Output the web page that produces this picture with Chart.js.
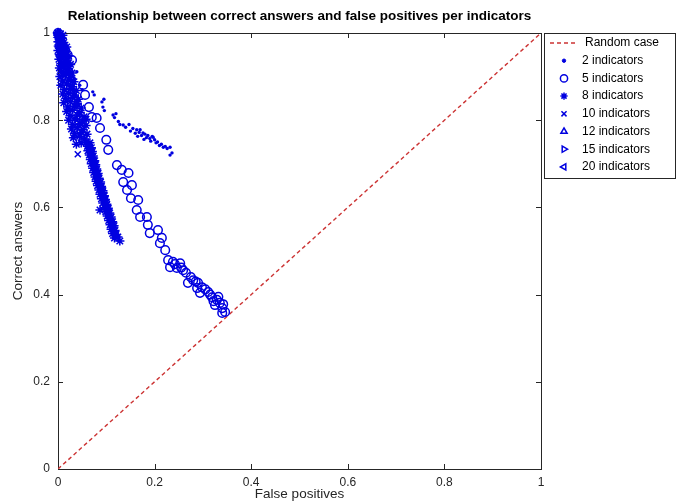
<!DOCTYPE html>
<html>
<head>
<meta charset="utf-8">
<script src="https://cdn.jsdelivr.net/npm/chart.js@4.4.1/dist/chart.umd.min.js"></script>
<style>
 html, body { margin: 0; padding: 0; background: #fff; }
 canvas { display: block; }
</style>
</head>
<body>
<canvas id="chart" width="678" height="504"></canvas>
<script>
/* ── DATA ───────────────────────────────────────────────── */
const chartTitle = 'Relationship between correct answers and false positives per indicators';
const xTicks = [0, 0.2, 0.4, 0.6, 0.8, 1];
const yTicks = [0, 0.2, 0.4, 0.6, 0.8, 1];
const randomCase = [[0, 0], [1, 1]];

const ind2 = [
 [0,1],[0.003,0.99],[0.006,0.985],[0.002,0.975],[0.008,0.97],[0.01,0.96],[0.012,0.95],[0.015,0.945],
 [0.018,0.935],[0.02,0.925],[0.024,0.92],[0.027,0.91],[0.03,0.9],[0.034,0.895],[0.039,0.911],[0.045,0.88],
 [0.05,0.87],[0.072,0.865],[0.075,0.858],[0.091,0.842],[0.093,0.83],[0.095,0.848],[0.096,0.822],
 [0.114,0.812],[0.117,0.806],[0.12,0.815],[0.125,0.797],[0.128,0.79],[0.135,0.789],[0.14,0.784],
 [0.147,0.79],[0.15,0.775],[0.155,0.781],[0.16,0.77],[0.163,0.778],[0.165,0.763],[0.168,0.772],
 [0.17,0.778],[0.173,0.765],[0.176,0.771],[0.178,0.756],[0.18,0.768],[0.183,0.76],[0.186,0.765],
 [0.19,0.758],[0.192,0.752],[0.195,0.763],[0.197,0.761],[0.2,0.755],[0.203,0.748],[0.206,0.75],
 [0.21,0.742],[0.214,0.745],[0.218,0.738],[0.222,0.74],[0.226,0.735],[0.232,0.738],[0.236,0.725],[0.232,0.72]
];

const ind5 = [
 [0,1],[0.005,0.985],[0.01,0.97],[0.015,0.96],[0.02,0.95],[0.029,0.938],[0.052,0.881],[0.056,0.858],
 [0.064,0.83],[0.07,0.807],[0.08,0.805],[0.087,0.782],[0.1,0.755],[0.104,0.732],
 [0.122,0.697],[0.132,0.686],[0.146,0.679],[0.135,0.658],[0.153,0.651],[0.143,0.64],[0.151,0.621],
 [0.166,0.617],[0.163,0.594],[0.17,0.578],[0.184,0.578],[0.186,0.56],[0.19,0.541],[0.207,0.548],
 [0.215,0.53],[0.211,0.518],[0.222,0.502],[0.228,0.479],[0.238,0.475],[0.253,0.472],[0.232,0.463],
 [0.246,0.461],[0.259,0.456],[0.242,0.47],[0.255,0.462],[0.265,0.45],[0.269,0.427],[0.28,0.433],
 [0.275,0.44],[0.29,0.427],[0.298,0.417],[0.288,0.415],[0.294,0.404],[0.285,0.43],[0.311,0.406],
 [0.305,0.412],[0.319,0.394],[0.315,0.4],[0.329,0.388],[0.335,0.381],[0.325,0.376],[0.332,0.395],
 [0.34,0.369],[0.346,0.36],[0.34,0.358],[0.342,0.378],[0.322,0.385]
];

const ind8 = [
 [0,1],[0.005,0.998],[0.01,0.995],[0,0.98],[0.006,0.982],[0.012,0.978],[0,0.96],[0.008,0.962],
 [0.016,0.958],[0.002,0.94],[0.01,0.943],[0.02,0.938],[0.003,0.92],[0.012,0.922],[0.022,0.918],
 [0.004,0.9],[0.015,0.903],[0.026,0.898],[0.006,0.88],[0.018,0.883],[0.03,0.877],[0.01,0.86],
 [0.022,0.862],[0.034,0.858],[0.012,0.84],[0.026,0.843],[0.04,0.838],[0.018,0.82],[0.03,0.823],
 [0.045,0.817],[0.022,0.8],[0.035,0.803],[0.05,0.798],[0.058,0.802],[0.028,0.78],[0.04,0.783],
 [0.052,0.778],[0.032,0.76],[0.045,0.763],[0.055,0.757],[0.038,0.745],[0.048,0.748],
 [0.002,0.99],[0.009,0.988],[0.003,0.97],[0.011,0.972],[0.018,0.968],[0.004,0.95],[0.013,0.952],
 [0.022,0.948],[0.006,0.93],[0.016,0.932],[0.026,0.928],[0.008,0.91],[0.019,0.912],[0.029,0.908],
 [0.01,0.89],[0.022,0.892],[0.033,0.888],[0.013,0.87],[0.026,0.872],[0.038,0.868],[0.016,0.85],
 [0.03,0.852],[0.042,0.848],[0.02,0.83],[0.034,0.832],[0.048,0.828],[0.025,0.81],[0.04,0.812],
 [0.054,0.808],[0.03,0.79],[0.045,0.792],[0.058,0.788],[0.034,0.77],[0.048,0.772],[0.06,0.768],
 [0.058,0.75],[0.066,0.748],[0.061,0.74],[0.069,0.737],[0.062,0.73],[0.071,0.728],[0.065,0.72],
 [0.073,0.718],[0.067,0.71],[0.076,0.707],[0.069,0.7],[0.078,0.698],[0.072,0.69],[0.08,0.688],
 [0.074,0.68],[0.083,0.678],[0.077,0.67],[0.085,0.667],[0.079,0.66],[0.088,0.658],[0.082,0.65],
 [0.09,0.648],[0.085,0.64],[0.093,0.638],[0.087,0.63],[0.096,0.627],[0.09,0.62],[0.098,0.618],
 [0.093,0.61],[0.101,0.607],[0.096,0.6],[0.104,0.598],[0.087,0.594],[0.099,0.59],[0.107,0.587],
 [0.102,0.58],[0.11,0.578],[0.105,0.57],[0.113,0.567],[0.108,0.56],[0.116,0.558],[0.11,0.55],
 [0.118,0.547],[0.113,0.54],[0.12,0.538],[0.117,0.53],[0.124,0.532],[0.128,0.523],
 [0.063,0.745],[0.066,0.735],[0.068,0.725],[0.071,0.715],[0.074,0.705],[0.076,0.695],[0.079,0.685],
 [0.081,0.675],[0.084,0.665],[0.086,0.655],[0.089,0.645],[0.092,0.635],[0.094,0.625],[0.097,0.615],
 [0.1,0.605],[0.103,0.595],[0.105,0.585],[0.108,0.575],[0.111,0.565],[0.114,0.555],[0.116,0.545],[0.119,0.535]
];

const ind10 = [
 [0.005,0.99],[0.01,0.975],[0.008,0.96],[0.015,0.95],[0.02,0.94],[0.012,0.93],[0.025,0.92],
 [0.02,0.905],[0.03,0.89],[0.028,0.875],[0.035,0.86],[0.038,0.845],[0.04,0.83],[0.045,0.815],
 [0.04,0.8],[0.05,0.79],[0.045,0.765],[0.041,0.722]
];

const ind12 = [
 [0,1],[0.003,0.99],[0.006,0.98],[0.004,0.97],[0.01,0.96],[0.008,0.95],[0.013,0.94],[0.016,0.93],
 [0.012,0.92],[0.02,0.91]
];

const ind15 = [
 [0,0.995],[0.002,0.985],[0.005,0.975],[0.003,0.965],[0.008,0.955],[0.006,0.945],[0.011,0.935],[0.01,0.925]
];

const ind20 = [
 [0,1],[0.001,0.99],[0.003,0.98],[0.002,0.97],[0.005,0.96],[0.004,0.95],[0.007,0.94]
];

/* ── STYLE ──────────────────────────────────────────────── */
const BLUE = '#0000e0';
const RED = '#cc3333';
const AXIS = '#262626';
const FONT = '"Liberation Sans", Arial, sans-serif';

const pts = a => a.map(p => ({ x: p[0], y: p[1] }));

function markerSet(label, data, style, radius, rotation, fill) {
 return {
 label, data: pts(data), showLine: false, clip: false,
 pointStyle: style, pointRadius: radius, pointHoverRadius: radius, pointRotation: rotation || 0,
 borderColor: BLUE, pointBorderColor: BLUE,
 pointBackgroundColor: fill ? BLUE : 'rgba(0,0,0,0)',
 pointBorderWidth: fill ? 0 : 1.5
 };
}

const datasets = [
 {
 label: 'Random case', data: pts(randomCase), showLine: true,
 borderColor: RED, borderWidth: 1.4, borderDash: [4, 3], pointRadius: 0, fill: false
 },
 markerSet('2 indicators', ind2, 'circle', 1.7, 0, true),
 markerSet('5 indicators', ind5, 'circle', 4.3, 0, false),
 markerSet('8 indicators', ind8, 'star', 4.6, 0, false),
 markerSet('10 indicators', ind10, 'crossRot', 4.3, 0, false),
 markerSet('12 indicators', ind12, 'triangle', 4.3, 0, false),
 markerSet('15 indicators', ind15, 'triangle', 4.3, 90, false),
 markerSet('20 indicators', ind20, 'triangle', 4.3, -90, false)
];
// later series on top, like the original plot
datasets.forEach((d, i) => { d.order = datasets.length - i; });

/* ── PLUGINS ────────────────────────────────────────────── */
const framePlugin = {
 id: 'frame',
 beforeDatasetsDraw(chart) {
 const { ctx, chartArea: a, scales: { x, y } } = chart;
 ctx.save();
 ctx.strokeStyle = AXIS;
 ctx.lineWidth = 1;
 ctx.strokeRect(Math.round(a.left) + 0.5, Math.round(a.top) + 0.5, Math.round(a.right - a.left), Math.round(a.bottom - a.top));
 ctx.beginPath();
 xTicks.forEach(v => {
 const px = Math.round(x.getPixelForValue(v)) + 0.5;
 ctx.moveTo(px, a.bottom); ctx.lineTo(px, a.bottom - 5);
 ctx.moveTo(px, a.top); ctx.lineTo(px, a.top + 5);
 });
 yTicks.forEach(v => {
 const py = Math.round(y.getPixelForValue(v)) + 0.5;
 ctx.moveTo(a.left, py); ctx.lineTo(a.left + 5, py);
 ctx.moveTo(a.right, py); ctx.lineTo(a.right - 5, py);
 });
 ctx.stroke();
 ctx.restore();
 },
 afterDraw(chart) {
 const { ctx, chartArea: a } = chart;
 ctx.save();
 // title
 ctx.fillStyle = '#000';
 ctx.font = 'bold 13.5px ' + FONT;
 ctx.textAlign = 'center';
 ctx.textBaseline = 'middle';
 ctx.fillText(chartTitle, (a.left + a.right) / 2, 16);

 // legend box
 const lx = 544, ly = 33, lw = 131, lh = 145, row = 17.7;
 ctx.fillStyle = '#fff';
 ctx.fillRect(lx, ly, lw, lh);
 ctx.strokeStyle = AXIS;
 ctx.lineWidth = 1;
 ctx.strokeRect(lx + 0.5, ly + 0.5, lw, lh);
 ctx.font = '12px ' + FONT;
 ctx.textAlign = 'left';
 chart.data.datasets.forEach((d, i) => {
 const cy = ly + 10 + i * row;
 if (i === 0) {
 ctx.save();
 ctx.strokeStyle = d.borderColor;
 ctx.lineWidth = d.borderWidth;
 ctx.setLineDash(d.borderDash);
 ctx.beginPath(); ctx.moveTo(550, cy); ctx.lineTo(577, cy); ctx.stroke();
 ctx.restore();
 } else {
 ctx.save();
 ctx.strokeStyle = d.pointBorderColor;
 ctx.fillStyle = d.pointBackgroundColor;
 ctx.lineWidth = d.pointBorderWidth || 1;
 const r = d.pointRadius < 2 ? 1.7 : 3.6;
 Chart.helpers.drawPoint(ctx, { pointStyle: d.pointStyle, radius: r, rotation: d.pointRotation, borderWidth: d.pointBorderWidth || 0.01 }, 564, cy);
 ctx.restore();
 }
 ctx.fillStyle = '#000';
 ctx.fillText(d.label, i === 0 ? 585 : 582, cy);
 });
 ctx.restore();
 }
};

/* ── CHART ──────────────────────────────────────────────── */
new Chart(document.getElementById('chart').getContext('2d'), {
 type: 'scatter',
 data: { datasets },
 options: {
 responsive: false,
 animation: false,
 events: [],
 layout: { padding: { top: 33, right: 137, left: 0, bottom: 0 } },
 plugins: { legend: { display: false }, tooltip: { enabled: false }, title: { display: false } },
 scales: {
 x: {
 type: 'linear', min: 0, max: 1,
 afterFit: s => { s.height = 35; },
 afterBuildTicks: s => { s.ticks = xTicks.map(v => ({ value: v })); },
 grid: { display: false, drawTicks: false }, border: { display: false },
 ticks: { padding: 6, color: AXIS, font: { family: FONT, size: 12 }, maxRotation: 0, callback: v => String(v) },
 title: { display: true, text: 'False positives', color: AXIS, font: { family: FONT, size: 13.5 }, padding: { top: 0, bottom: 2 } }
 },
 y: {
 type: 'linear', min: 0, max: 1,
 afterFit: s => { s.width = 58; },
 afterBuildTicks: s => { s.ticks = yTicks.map(v => ({ value: v })); },
 grid: { display: false, drawTicks: false }, border: { display: false },
 ticks: { padding: 8, color: AXIS, font: { family: FONT, size: 12 }, callback: v => String(v) },
 title: { display: true, text: 'Correct answers', color: AXIS, font: { family: FONT, size: 13.5 }, padding: { top: 10, bottom: 0 } }
 }
 }
 },
 plugins: [framePlugin]
});
</script>
</body>
</html>
